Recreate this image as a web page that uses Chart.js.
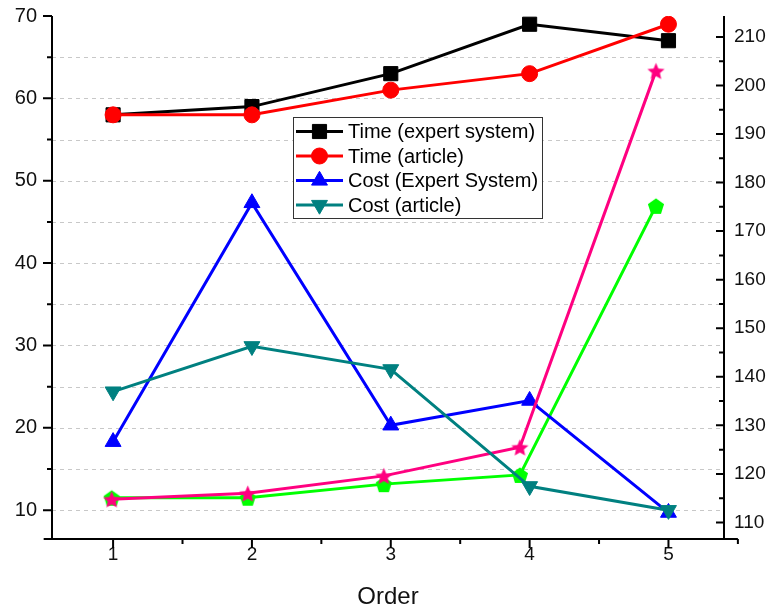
<!DOCTYPE html>
<html lang="en">
<head>
<meta charset="UTF-8">
<title>Order chart</title>
<script src="https://cdn.jsdelivr.net/npm/chart.js"></script>
<style>
    html, body { margin: 0; padding: 0; background: #fff; }
    #wrap { width: 767px; height: 612px; }
</style>
</head>
<body>
<div id="wrap"><canvas id="myChart" width="767" height="612"></canvas></div>

<script>
    // values
    var order = [1, 2, 3, 4, 5];
    var timeExpert = [58, 59, 63, 69, 67];
    var timeArticle = [58, 58, 61, 63, 69];
    var costExpert = [18.3, 47.3, 20.3, 23.3, 9.7];
    var costArticle = [24.4, 29.9, 27.1, 12.9, 10.0];

    // the two right-axis series sit slightly left of the ticks
    var orderShift = [0.99, 1.97, 2.95, 3.93, 4.91];
    var pinkValues = [114.8, 116.0, 119.6, 125.5, 203.0];
    var greenValues = [115.1, 115.1, 117.9, 119.8, 175.2];

    var leftTicks = [10, 15, 20, 25, 30, 35, 40, 45, 50, 55, 60, 65, 70];
    var rightTicks = [110, 115, 120, 125, 130, 135, 140, 145, 150, 155, 160, 165, 170, 175, 180, 185, 190, 195, 200, 205, 210];
    var orderTicks = [1, 1.5, 2, 2.5, 3, 3.5, 4, 4.5, 5, 5.5];

    var FONT = "'Liberation Sans', Arial, sans-serif";

    function pts(xs, ys) {
        return xs.map(function (x, i) { return { x: x, y: ys[i] }; });
    }

    // filled star and pentagon markers
    function polyMarker(color, n, inner, size) {
        var c = document.createElement('canvas');
        c.width = size; c.height = size;
        var g = c.getContext('2d');
        var r = size / 2 - 0.5;
        g.beginPath();
        var k = inner ? n * 2 : n;
        for (var i = 0; i < k; i++) {
            var rr = inner && i % 2 ? r * inner : r;
            var a = -Math.PI / 2 + i * Math.PI * 2 / k;
            var px = size / 2 + rr * Math.cos(a);
            var py = size / 2 + 1 + rr * Math.sin(a);
            if (i === 0) g.moveTo(px, py); else g.lineTo(px, py);
        }
        g.closePath();
        g.fillStyle = color;
        g.fill();
        return c;
    }
    var starImg = polyMarker('#ff0080', 5, 0.46, 19);
    var pentImg = polyMarker('#00ff00', 5, 0, 18);

    // axes, ticks and dashed grid drawn from the scales
    var axesPlugin = {
        id: 'axes',
        beforeDatasetsDraw: function (chart) {
            var ctx = chart.ctx, a = chart.chartArea, y = chart.scales.y;
            ctx.save();
            ctx.strokeStyle = '#c8c8c8';
            ctx.lineWidth = 1;
            ctx.setLineDash([4, 4]);
            leftTicks.forEach(function (v) {
                if (v === 70) return;
                var py = Math.round(y.getPixelForValue(v)) + 0.5;
                ctx.beginPath();
                ctx.moveTo(a.left, py);
                ctx.lineTo(a.right, py);
                ctx.stroke();
            });
            ctx.restore();
        },
        afterDatasetsDraw: function (chart) {
            var ctx = chart.ctx, a = chart.chartArea;
            var x = chart.scales.x, y = chart.scales.y, y2 = chart.scales.y2;
            ctx.save();
            ctx.strokeStyle = '#000';
            ctx.lineWidth = 2;
            ctx.beginPath();
            ctx.moveTo(a.left, a.top);
            ctx.lineTo(a.left, a.bottom + 1);
            ctx.moveTo(a.right, a.top);
            ctx.lineTo(a.right, a.bottom + 1);
            ctx.moveTo(x.getPixelForValue(0.5), a.bottom);
            ctx.lineTo(x.getPixelForValue(5.5), a.bottom);
            ctx.stroke();
            ctx.beginPath();
            leftTicks.forEach(function (v) {
                var py = y.getPixelForValue(v);
                ctx.moveTo(a.left, py);
                ctx.lineTo(a.left - (v % 10 === 0 ? 9 : 5), py);
            });
            rightTicks.forEach(function (v) {
                var py = y2.getPixelForValue(v);
                ctx.moveTo(a.right, py);
                ctx.lineTo(a.right - (v % 10 === 0 ? 8 : 5), py);
            });
            orderTicks.forEach(function (v) {
                var px = x.getPixelForValue(v);
                ctx.moveTo(px, a.bottom);
                ctx.lineTo(px, a.bottom + (v % 1 === 0 ? 9 : 5));
            });
            ctx.stroke();
            ctx.restore();
        }
    };

    // boxed legend inside the plot, first four series only
    var legendPlugin = {
        id: 'boxLegend',
        afterDraw: function (chart) {
            var ctx = chart.ctx;
            var left = 293, top = 117, w = 249, h = 101, rowH = 24.5;
            ctx.save();
            ctx.fillStyle = '#fff';
            ctx.fillRect(left, top, w, h);
            ctx.strokeStyle = '#333';
            ctx.lineWidth = 1;
            ctx.strokeRect(left + 0.5, top + 0.5, w, h);
            ctx.font = '20px ' + FONT;
            ctx.textBaseline = 'middle';
            chart.data.datasets.slice(0, 4).forEach(function (ds, i) {
                var cy = top + 14.5 + i * rowH;
                ctx.strokeStyle = ds.borderColor;
                ctx.lineWidth = 3;
                ctx.beginPath();
                ctx.moveTo(left + 3, cy);
                ctx.lineTo(left + 50, cy);
                ctx.stroke();
                ctx.fillStyle = ds.borderColor;
                ctx.lineWidth = 1;
                Chart.helpers.drawPoint(ctx, {
                    pointStyle: ds.pointStyle,
                    rotation: ds.pointRotation || 0,
                    radius: ds.pointRadius,
                    borderWidth: 1
                }, left + 26.5, cy);
                ctx.fillStyle = '#000';
                ctx.fillText(ds.label, left + 55, cy + 1);
            });
            ctx.restore();
        }
    };

    function series(label, data, color, style, radius, axis, rot, ord) {
        return {
            label: label,
            data: data,
            borderColor: color,
            backgroundColor: color,
            borderWidth: 3,
            pointStyle: style,
            pointRadius: radius,
            pointRotation: rot || 0,
            pointBorderWidth: 1,
            pointBorderColor: color,
            pointBackgroundColor: color,
            yAxisID: axis,
            order: ord || 0,
            tension: 0
        };
    }

    var data = {
        datasets: [
            series('Time (expert system)', pts(order, timeExpert), '#000000', 'rect', 10, 'y', 0, 1),
            series('Time (article)', pts(order, timeArticle), '#ff0000', 'circle', 8, 'y'),
            series('Cost (Expert System)', pts(order, costExpert), '#0000ff', 'triangle', 9.2, 'y', 0, 1),
            series('Cost (article)', pts(order, costArticle), '#008080', 'triangle', 9.2, 'y', 180),
            series('pink', pts(orderShift, pinkValues), '#ff0080', starImg, 9, 'y2'),
            series('green', pts(orderShift, greenValues), '#00ff00', pentImg, 9, 'y2', 0, 1)
        ]
    };

    var tickFont = { family: FONT, size: 20 };

    function fixSide(w) {
        return function (s) {
            s.width = w;
            s.paddingTop = 0;
            s.paddingBottom = 0;
        };
    }

    var config = {
        type: 'line',
        data: data,
        options: {
            responsive: false,
            animation: false,
            layout: { padding: { top: 16, left: 0, right: 0, bottom: 0 } },
            plugins: {
                legend: { display: false },
                tooltip: { enabled: false }
            },
            scales: {
                x: {
                    type: 'linear',
                    min: 0.56,
                    max: 5.4,
                    afterBuildTicks: function (s) { s.ticks = order.map(function (v) { return { value: v }; }); },
                    afterFit: function (s) { s.height = 73; s.paddingLeft = 0; s.paddingRight = 0; },
                    grid: { display: false, drawTicks: false },
                    border: { display: false },
                    ticks: { font: { family: FONT, size: 19 }, color: '#111', padding: 4, maxRotation: 0 },
                    title: { display: true, text: 'Order', font: { family: FONT, size: 24 }, color: '#111', padding: { top: 0, bottom: 0 } }
                },
                y: {
                    position: 'left',
                    min: 6.5,
                    max: 70,
                    afterBuildTicks: function (s) { s.ticks = leftTicks.map(function (v) { return { value: v }; }); },
                    afterFit: fixSide(52),
                    grid: { display: false, drawTicks: false },
                    border: { display: false },
                    ticks: {
                        font: tickFont, color: '#111', padding: 15,
                        callback: function (v) { return v % 10 === 0 ? v : ''; }
                    }
                },
                y2: {
                    position: 'right',
                    min: 106.6,
                    max: 214.3,
                    afterBuildTicks: function (s) { s.ticks = rightTicks.map(function (v) { return { value: v }; }); },
                    afterFit: fixSide(43),
                    grid: { display: false, drawTicks: false },
                    border: { display: false },
                    ticks: {
                        font: { family: FONT, size: 19 }, color: '#111', padding: 10,
                        callback: function (v) { return v % 10 === 0 ? v : ''; }
                    }
                }
            }
        },
        plugins: [axesPlugin, legendPlugin]
    };

    var myChart = new Chart(document.getElementById('myChart'), config);
</script>
</body>
</html>
